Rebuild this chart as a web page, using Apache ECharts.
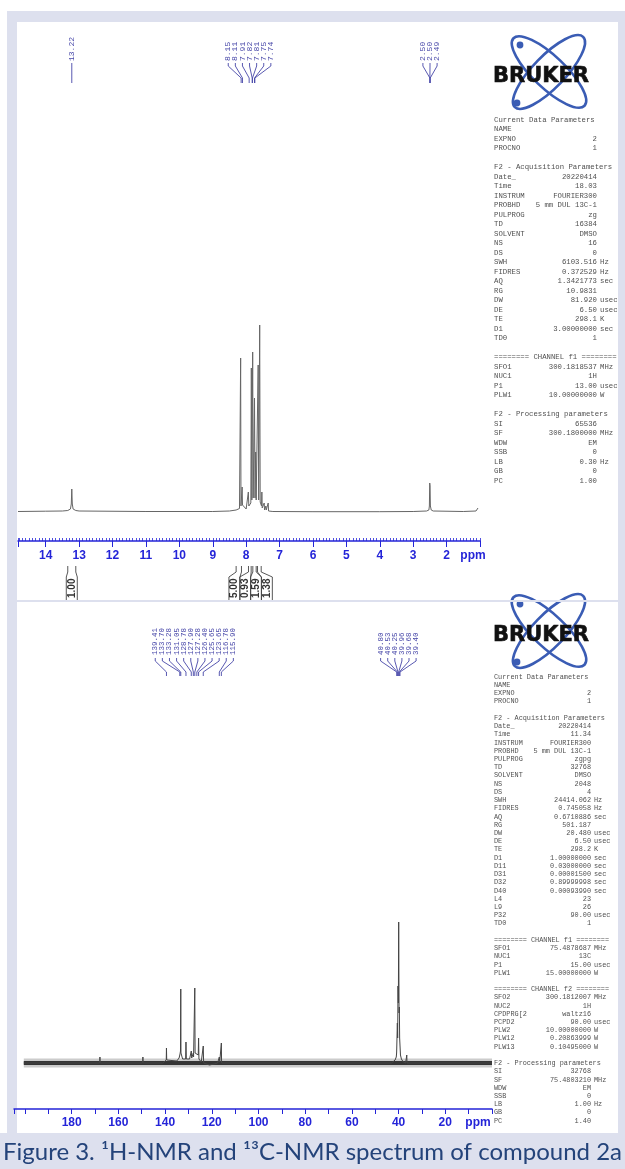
<!DOCTYPE html>
<html>
<head>
<meta charset="utf-8">
<script src="https://cdn.jsdelivr.net/npm/echarts@6/dist/echarts.min.js"></script>
<style>
  html, body { margin: 0; padding: 0; background: #fff; }
  #chart { width: 625px; height: 1169px; }
</style>
</head>
<body>
<div id="chart"></div>
<script>
// ---- 1H spectrum: [ppm, height] ----
const hSpectrum = [
  [14.83, 0.5], [14.0, 0.8], [13.5, 1], [13.34, 1.5], [13.26, 3], [13.235, 8], [13.22, 23],
  [13.205, 8], [13.18, 3], [13.1, 1.5], [13.0, 1], [11.0, 0.5], [9.0, 0.5], [8.5, 1],
  [8.3, 2], [8.2, 3.5], [8.175, 5], [8.165, 154], [8.155, 6], [8.13, 7], [8.12, 25], [8.11, 7],
  [8.0, 3], [7.95, 5], [7.935, 20], [7.92, 6], [7.86, 9], [7.845, 144], [7.83, 12], [7.805, 160],
  [7.79, 14], [7.76, 12], [7.75, 114], [7.735, 14], [7.715, 60], [7.70, 12], [7.655, 12],
  [7.64, 147], [7.625, 12], [7.595, 187], [7.58, 10], [7.54, 6], [7.53, 20], [7.52, 4],
  [7.47, 2], [7.46, 9], [7.45, 2], [7.415, 2], [7.41, 6], [7.40, 2], [7.35, 2], [7.34, 9],
  [7.33, 1], [7.2, 0.5], [6.0, 0.3], [4.0, 0.3], [3.0, 0.5], [2.6, 1], [2.53, 2], [2.515, 6],
  [2.505, 29], [2.50, 27], [2.495, 26], [2.485, 6], [2.46, 2], [2.4, 1], [1.5, 0.5],
  [1.12, 1], [1.06, 4]
];
const hPeakGroups = [
  ['13.22'],
  ['8.15', '8.11', '7.91', '7.82', '7.81', '7.75', '7.74'],
  ['2.50', '2.50', '2.49']
];
const hIntegralGroups = [
  [['1.00', 13.34, 13.10]],
  [['5.00', 8.30, 8.14], ['0.93', 7.93, 7.85], ['1.59', 7.80, 7.70], ['1.38', 7.66, 7.55]]
];

// ---- 13C spectrum: [ppm, height] ----
const cSpectrum = [
  [200.5, 0], [168.0, 0], [167.9, 6], [167.8, 0], [149.6, 0], [149.5, 6], [149.4, 0],
  [141, 0], [140.5, 1], [139.5, 3], [139.41, 15], [139.3, 3], [138.5, 1],
  [135, 2], [134.0, 5], [133.6, 9], [133.4, 12], [133.28, 74], [133.2, 10], [132.5, 4],
  [131.2, 4], [131.05, 21], [130.9, 4], [129.5, 4], [128.9, 5], [128.78, 12], [128.6, 5],
  [128.0, 5], [127.9, 10], [127.8, 6], [127.4, 8], [127.28, 75], [127.15, 10],
  [126.5, 8], [126.4, 10], [126.3, 8], [125.8, 8], [125.65, 25], [125.5, 4], [124.5, 1],
  [123.8, 1], [123.65, 17], [123.5, 0], [121, -2], [119, -1], [117.5, 0],
  [116.9, 1], [116.78, 6], [116.6, 1], [116.0, 1], [115.9, 20], [115.8, 0],
  [43, 0], [41.5, 3], [41.0, 6], [40.85, 10], [40.8, 14], [40.6, 12], [40.53, 40], [40.4, 25],
  [40.25, 77], [40.1, 60], [39.96, 141], [39.8, 50], [39.68, 56], [39.55, 25], [39.4, 25],
  [39.2, 8], [38.8, 4], [38.0, 1], [37.0, 0], [36.6, 0], [36.5, 8], [36.4, 0], [0, 0]
];
const cNoiseBand = [[200.5, 0], [0, 0]];
const cPeakGroups = [
  ['139.41', '133.70', '133.28', '131.05', '128.78', '127.90', '127.28', '126.40', '125.65', '123.65', '116.78', '115.90'],
  ['40.80', '40.53', '40.25', '39.96', '39.68', '39.40']
];

// ---- parameter panels ----
const hParams = [
  ['Current Data Parameters'], ['NAME', ''], ['EXPNO', '2'], ['PROCNO', '1'], [],
  ['F2 - Acquisition Parameters'], ['Date_', '20220414'], ['Time', '18.03'],
  ['INSTRUM', 'FOURIER300'], ['PROBHD', '5 mm DUL 13C-1'], ['PULPROG', 'zg'], ['TD', '16384'],
  ['SOLVENT', 'DMSO'], ['NS', '16'], ['DS', '0'], ['SWH', '6103.516', 'Hz'],
  ['FIDRES', '0.372529', 'Hz'], ['AQ', '1.3421773', 'sec'], ['RG', '10.9831'],
  ['DW', '81.920', 'usec'], ['DE', '6.50', 'usec'], ['TE', '298.1', 'K'],
  ['D1', '3.00000000', 'sec'], ['TD0', '1'], [],
  ['======== CHANNEL f1 ========'], ['SFO1', '300.1818537', 'MHz'], ['NUC1', '1H'],
  ['P1', '13.00', 'usec'], ['PLW1', '10.00000000', 'W'], [],
  ['F2 - Processing parameters'], ['SI', '65536'], ['SF', '300.1800000', 'MHz'],
  ['WDW', 'EM'], ['SSB', '0'], ['LB', '0.30', 'Hz'], ['GB', '0'], ['PC', '1.00']
];
const cParams = [
  ['Current Data Parameters'], ['NAME', ''], ['EXPNO', '2'], ['PROCNO', '1'], [],
  ['F2 - Acquisition Parameters'], ['Date_', '20220414'], ['Time', '11.34'],
  ['INSTRUM', 'FOURIER300'], ['PROBHD', '5 mm DUL 13C-1'], ['PULPROG', 'zgpg'], ['TD', '32768'],
  ['SOLVENT', 'DMSO'], ['NS', '2048'], ['DS', '4'], ['SWH', '24414.062', 'Hz'],
  ['FIDRES', '0.745058', 'Hz'], ['AQ', '0.6710886', 'sec'], ['RG', '501.187'],
  ['DW', '20.480', 'usec'], ['DE', '6.50', 'usec'], ['TE', '298.2', 'K'],
  ['D1', '1.00000000', 'sec'], ['D11', '0.03000000', 'sec'], ['D31', '0.00001500', 'sec'],
  ['D32', '0.89999998', 'sec'], ['D40', '0.00093990', 'sec'], ['L4', '23'], ['L9', '26'],
  ['P32', '90.00', 'usec'], ['TD0', '1'], [],
  ['======== CHANNEL f1 ========'], ['SFO1', '75.4878687', 'MHz'], ['NUC1', '13C'],
  ['P1', '15.00', 'usec'], ['PLW1', '15.00000000', 'W'], [],
  ['======== CHANNEL f2 ========'], ['SFO2', '300.1812007', 'MHz'], ['NUC2', '1H'],
  ['CPDPRG[2', 'waltz16'], ['PCPD2', '90.00', 'usec'], ['PLW2', '10.00000000', 'W'],
  ['PLW12', '0.20863999', 'W'], ['PLW13', '0.10495000', 'W'], [],
  ['F2 - Processing parameters'], ['SI', '32768'], ['SF', '75.4803210', 'MHz'],
  ['WDW', 'EM'], ['SSB', '0'], ['LB', '1.00', 'Hz'], ['GB', '0'], ['PC', '1.40']
];

const AXIS_BLUE = '#2424d8';
const LABEL_BLUE = '#4646a8';
const PARAM_GREY = '#505050';
const LAVENDER = '#dde0ee';

function fanRender(groups, geo) {
  return function (params, api) {
    const labels = groups[api.value(2)];
    const targets = labels.map(t => api.coord([parseFloat(t), 0])[0]);
    const mid = targets.reduce((a, b) => a + b, 0) / targets.length;
    const children = [];
    labels.forEach((t, i) => {
      const lx = mid + (i - (labels.length - 1) / 2) * geo.gap;
      const px = targets[i];
      children.push({
        type: 'text', x: lx, y: geo.textBottom, rotation: Math.PI / 2,
        style: { text: t, fill: LABEL_BLUE, font: geo.font, align: 'left', verticalAlign: 'middle' }
      });
      children.push({
        type: 'polyline',
        shape: { points: [[lx, geo.y0], [lx, geo.y1], [px, geo.y2], [px, geo.y3]] },
        style: { stroke: LABEL_BLUE, lineWidth: 0.9, fill: null }
      });
    });
    return { type: 'group', children };
  };
}

function integralRender(params, api) {
  const items = hIntegralGroups[api.value(2)];
  const ranges = items.map(it => [api.coord([it[1], 0])[0], api.coord([it[2], 0])[0]]);
  const mid = ranges.reduce((s, r) => s + (r[0] + r[1]) / 2, 0) / ranges.length;
  const children = [];
  items.forEach((it, i) => {
    const tx = mid + (i - (items.length - 1) / 2) * 10.8;
    const a = ranges[i][0], b = ranges[i][1];
    const st = { stroke: '#444', lineWidth: 0.9, fill: null };
    children.push({ type: 'polyline', shape: { points: [[a, 566], [a, 572], [tx - 5.5, 577], [tx - 5.5, 601]] }, style: st });
    children.push({ type: 'polyline', shape: { points: [[b, 566], [b, 572], [tx + 5.5, 577], [tx + 5.5, 601]] }, style: st });
    children.push({
      type: 'text', x: tx, y: 598, rotation: Math.PI / 2,
      style: { text: it[0], fill: '#333', font: "bold 10px 'Liberation Sans', Arial", align: 'left', verticalAlign: 'middle' }
    });
  });
  return { type: 'group', children };
}

function paramTexts(lines, o) {
  const els = [];
  lines.forEach((ln, i) => {
    const y = o.y0 + i * o.step;
    if (!ln.length) return;
    const base = { fill: PARAM_GREY, font: o.font, verticalAlign: 'middle', textVerticalAlign: 'middle' };
    els.push({ type: 'text', x: o.xLabel, y, z: 50, style: Object.assign({ text: ln[0], align: 'left', textAlign: 'left' }, base) });
    if (ln[1]) els.push({ type: 'text', x: o.xValue, y, z: 50, style: Object.assign({ text: ln[1], align: 'right', textAlign: 'right' }, base) });
    if (ln[2]) els.push({ type: 'text', x: o.xUnit, y, z: 50, style: Object.assign({ text: ln[2], align: 'left', textAlign: 'left' }, base) });
  });
  return els;
}

function brukerLogo(cx, cy) {
  const orbit = { stroke: '#3a5cb4', lineWidth: 2.6, fill: null };
  return [
    { type: 'ellipse', x: cx, y: cy, rotation: -0.76, shape: { cx: 0, cy: 0, rx: 49, ry: 16 }, style: orbit, z: 50 },
    { type: 'ellipse', x: cx, y: cy, rotation: 0.80, shape: { cx: 0, cy: 0, rx: 49, ry: 16 }, style: orbit, z: 50 },
    { type: 'circle', shape: { cx: cx - 29, cy: cy - 27, r: 3.4 }, style: { fill: '#3a5cb4' }, z: 50 },
    { type: 'circle', shape: { cx: cx - 32, cy: cy + 31, r: 3.4 }, style: { fill: '#3a5cb4' }, z: 50 },
    { type: 'text', x: cx - 8, y: cy + 5, z: 51,
      style: { text: 'BRUKER', fill: '#111', font: "900 21px 'DejaVu Sans', sans-serif",
        stroke: '#111', lineWidth: 0.6,
        align: 'center', textAlign: 'center', verticalAlign: 'middle', textVerticalAlign: 'middle' } }
  ];
}

const chart = echarts.init(document.getElementById('chart'), null, { renderer: 'canvas' });

const axisLabelBase = {
  color: AXIS_BLUE, fontWeight: 'bold', fontSize: 12,
  fontFamily: "'Liberation Sans Narrow', 'Liberation Sans', Arial"
};

chart.setOption({
  animation: false,
  grid: [
    { left: 18, top: 22, width: 462, height: 519 },
    { left: 14, top: 610, width: 478, height: 499 }
  ],
  xAxis: [
    {
      gridIndex: 0, type: 'value', inverse: true, min: 1, max: 14.83, interval: 1,
      axisLine: { onZero: false, lineStyle: { color: AXIS_BLUE, width: 1.5 } },
      axisTick: { length: 6, lineStyle: { color: AXIS_BLUE, width: 1 } },
      splitLine: { show: false },
      axisLabel: Object.assign({}, axisLabelBase, {
        margin: 9,
        formatter: v => {
          if (Math.abs(v - 1) < 1e-6) return '{p|ppm}';
          if (Math.abs(v - Math.round(v)) < 1e-6 && v >= 2 && v <= 14) return String(Math.round(v));
          return '';
        },
        rich: { p: Object.assign({}, axisLabelBase, { padding: [0, 14, 0, 0] }) }
      })
    },
    {
      gridIndex: 0, type: 'value', inverse: true, min: 1, max: 14.83, interval: 0.1, position: 'bottom', offset: 0,
      axisLine: { show: false, onZero: false },
      axisTick: { inside: true, length: 3, lineStyle: { color: AXIS_BLUE, width: 0.8 } },
      axisLabel: { show: false }, splitLine: { show: false }
    },
    {
      gridIndex: 1, type: 'value', inverse: true, min: 0, max: 204.7, interval: 10,
      axisLine: { onZero: false, lineStyle: { color: AXIS_BLUE, width: 1.5 } },
      axisTick: { length: 5, lineStyle: { color: AXIS_BLUE, width: 1 } },
      splitLine: { show: false },
      axisLabel: Object.assign({}, axisLabelBase, {
        margin: 8,
        formatter: v => {
          if (v === 0) return '{p|ppm}';
          if (v % 20 === 0 && v >= 20 && v <= 180) return String(v);
          return '';
        },
        rich: { p: Object.assign({}, axisLabelBase, { padding: [0, 28, 0, 0] }) }
      })
    }
  ],
  yAxis: [
    { gridIndex: 0, type: 'value', min: -29, max: 490, show: false },
    { gridIndex: 1, type: 'value', min: -46, max: 453, show: false }
  ],
  series: [
    {
      type: 'line', xAxisIndex: 0, yAxisIndex: 0, data: hSpectrum, showSymbol: false, symbol: 'none',
      lineStyle: { color: '#666', width: 1 }, silent: true
    },
    {
      type: 'custom', xAxisIndex: 0, yAxisIndex: 0, clip: false, silent: true,
      data: hPeakGroups.map((g, i) => [parseFloat(g[0]), 0, i]), encode: { x: 0, y: 1 },
      renderItem: fanRender(hPeakGroups, {
        gap: 7.1, textBottom: 61, y0: 63, y1: 66, y2: 78, y3: 83,
        font: "8px 'Liberation Mono', monospace"
      })
    },
    {
      type: 'custom', xAxisIndex: 0, yAxisIndex: 0, clip: false, silent: true,
      data: hIntegralGroups.map((g, i) => [g[0][1], 0, i]), encode: { x: 0, y: 1 },
      renderItem: integralRender
    },
    {
      // soft outer fringe of the noise band
      type: 'line', xAxisIndex: 2, yAxisIndex: 1, data: cNoiseBand, showSymbol: false, symbol: 'none',
      lineStyle: { color: '#333', width: 9, opacity: 0.25 }, silent: true
    },
    {
      type: 'line', xAxisIndex: 2, yAxisIndex: 1, data: cNoiseBand, showSymbol: false, symbol: 'none',
      lineStyle: { color: '#1a1a1a', width: 4, opacity: 0.85 }, silent: true
    },
    {
      type: 'line', xAxisIndex: 2, yAxisIndex: 1, data: cSpectrum, showSymbol: false, symbol: 'none',
      lineStyle: { color: '#444', width: 1 }, silent: true
    },
    {
      type: 'custom', xAxisIndex: 2, yAxisIndex: 1, clip: false, silent: true,
      data: cPeakGroups.map((g, i) => [parseFloat(g[0]), 0, i]), encode: { x: 0, y: 1 },
      renderItem: fanRender(cPeakGroups, {
        gap: 7.1, textBottom: 655, y0: 658, y1: 661, y2: 672, y3: 676,
        font: "7.5px 'Liberation Mono', monospace"
      })
    }
  ],
  graphic: [].concat(
    [
      { type: 'rect', z: -100, shape: { x: 7, y: 11, width: 618, height: 1158 }, style: { fill: LAVENDER } },
      { type: 'rect', z: -100, shape: { x: 0, y: 1133, width: 625, height: 36 }, style: { fill: LAVENDER } },
      { type: 'rect', z: -99, shape: { x: 17, y: 22, width: 601, height: 1111 }, style: { fill: '#fff' } },
      { type: 'rect', z: 60, shape: { x: 17, y: 600, width: 601, height: 2 }, style: { fill: LAVENDER } }
    ],
    brukerLogo(549, 72),
    brukerLogo(549, 631),
    paramTexts(hParams, { y0: 120, step: 9.5, xLabel: 494, xValue: 597, xUnit: 600, font: "7.3px 'Liberation Mono', monospace" }),
    paramTexts(cParams, { y0: 677, step: 8.22, xLabel: 494, xValue: 591, xUnit: 594, font: "6.85px 'Liberation Mono', monospace" }),
    [
      { type: 'text', x: 3, y: 1152, z: 60,
        style: { text: 'Figure 3. \u00B9H-NMR and \u00B9\u00B3C-NMR spectrum of compound 2a', fill: '#24437a',
          font: "24px Lato, 'Open Sans', sans-serif", align: 'left', textAlign: 'left', verticalAlign: 'middle', textVerticalAlign: 'middle' } }
    ]
  )
});
</script>
</body>
</html>
